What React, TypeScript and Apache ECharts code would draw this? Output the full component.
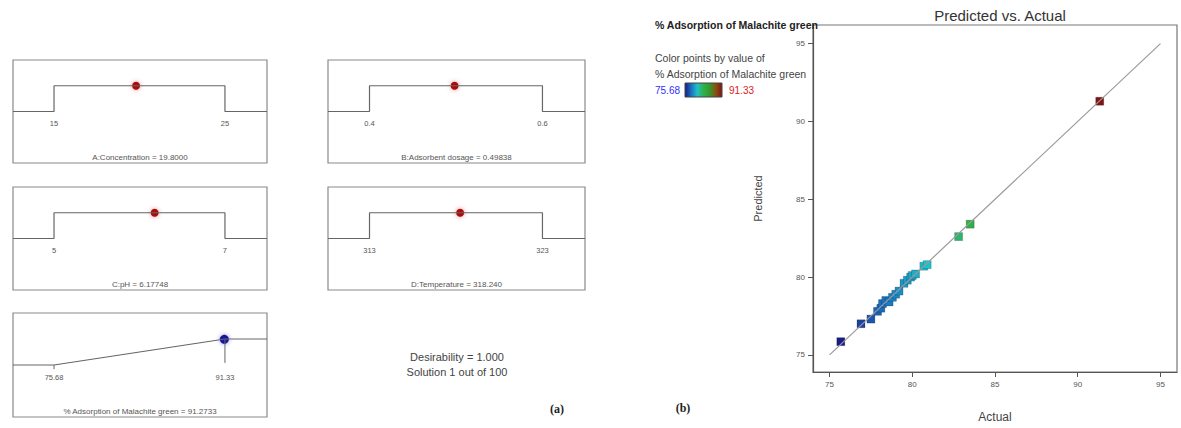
import React, { useEffect, useRef } from 'react';
import * as echarts from 'echarts';

// ---- Panel (a): optimisation ramps ----
const factorNames = ['A:Concentration', 'B:Adsorbent dosage', 'C:pH', 'D:Temperature'];
const factorLow = [15, 0.4, 5, 313];
const factorHigh = [25, 0.6, 7, 323];
const factorLowLabel = ['15', '0.4', '5', '313'];
const factorHighLabel = ['25', '0.6', '7', '323'];
const factorOpt = [19.8, 0.49838, 6.17748, 318.24];
const factorOptLabel = ['19.8000', '0.49838', '6.17748', '318.240'];

const responseName = '% Adsorption of Malachite green';
const responseLow = 75.68;
const responseHigh = 91.33;
const responsePred = 91.2733;
const responsePredLabel = '91.2733';
const desirabilityText = ['Desirability = 1.000', 'Solution 1 out of 100'];

// ---- Panel (b): predicted vs actual ----
const actualVals = [75.68, 76.9, 77.5, 77.9, 78.1, 78.2, 78.4, 78.6, 78.8, 79.0, 79.2, 79.5, 79.7, 79.9, 80.0, 80.2, 80.7, 80.9, 82.8, 83.5, 91.33];
const predictedVals = [75.85, 77.0, 77.3, 77.8, 78.0, 78.3, 78.5, 78.4, 78.7, 78.9, 79.1, 79.6, 79.8, 80.0, 80.1, 80.2, 80.7, 80.8, 82.6, 83.4, 91.3];
const axisTicks = [75, 80, 85, 90, 95];
const diagonal = [75, 95];
const scaleColors = ['#1a1a88', '#1a70c0', '#20c0c8', '#30b048', '#2f9a30', '#8a5010', '#801414'];

const FONT = 'Liberation Sans';

export default function App() {
  const ref = useRef<HTMLDivElement>(null);
  useEffect(() => {
    document.body.style.margin = '0';
    const chart = echarts.init(ref.current!, null, { renderer: 'svg' });

    const boxes = [
      { left: 13, top: 60, width: 254, height: 103 },
      { left: 328, top: 60, width: 257, height: 103 },
      { left: 13, top: 187, width: 254, height: 103 },
      { left: 328, top: 187, width: 257, height: 103 },
      { left: 13, top: 313, width: 254, height: 104 },
    ];
    const L = 0.5;
    const H = 0.75;
    const grids: any[] = [];
    const xAxes: any[] = [];
    const yAxes: any[] = [];
    const series: any[] = [];

    const lineStyle = { color: '#666', width: 1.2 };
    const tickLabel = (idx: number, pts: any[], texts: string[]) => ({
      type: 'scatter', xAxisIndex: idx, yAxisIndex: idx, symbolSize: 0, silent: true,
      itemStyle: { color: '#555', opacity: 1 },
      data: pts,
      label: {
        show: true, position: 'bottom', distance: 8, fontSize: 7.5, color: '#555', fontFamily: FONT,
        formatter: (p: any) => texts[p.dataIndex],
      },
    });

    boxes.forEach((b, i) => {
      grids.push({ ...b, show: true, borderColor: '#8a8a8a', borderWidth: 1.2, backgroundColor: '#fff' });
      let lo: number, hi: number, name: string;
      if (i < 4) {
        lo = factorLow[i]; hi = factorHigh[i];
        name = `${factorNames[i]} = ${factorOptLabel[i]}`;
      } else {
        lo = responseLow; hi = responseHigh;
        name = `${responseName} = ${responsePredLabel}`;
      }
      const span = hi - lo;
      const xmin = lo - 0.24 * span;
      const xmax = hi + 0.246 * span;
      xAxes.push({
        type: 'value', gridIndex: i, min: xmin, max: xmax, show: true,
        axisLine: { show: false }, axisTick: { show: false }, axisLabel: { show: false }, splitLine: { show: false },
        name, nameLocation: 'middle', nameGap: -6,
        nameTextStyle: { fontSize: 8, color: '#555', fontFamily: FONT, verticalAlign: 'middle' },
      });
      yAxes.push({ type: 'value', gridIndex: i, min: 0, max: 1, show: false });
      if (i < 4) {
        series.push({
          type: 'line', xAxisIndex: i, yAxisIndex: i, symbol: 'none', silent: true, lineStyle,
          data: [[xmin, L], [lo, L], [lo, H], [hi, H], [hi, L], [xmax, L]],
        });
        series.push(tickLabel(i, [[lo, L], [hi, L]], [factorLowLabel[i], factorHighLabel[i]]));
        series.push({
          type: 'scatter', xAxisIndex: i, yAxisIndex: i, symbolSize: 8, silent: true,
          itemStyle: { color: '#a81010', opacity: 1, shadowBlur: 4, shadowColor: 'rgba(220,60,60,0.6)' },
          data: [[factorOpt[i], H]],
        });
      } else {
        series.push({
          type: 'line', xAxisIndex: i, yAxisIndex: i, symbol: 'none', silent: true, lineStyle,
          data: [[xmin, L], [lo, L], [hi, H], [xmax, H]],
        });
        series.push({
          type: 'line', xAxisIndex: i, yAxisIndex: i, symbol: 'none', silent: true, lineStyle: { color: '#666', width: 1 },
          data: [[hi, H], [hi, L + 0.02]],
        });
        series.push({
          type: 'line', xAxisIndex: i, yAxisIndex: i, symbol: 'none', silent: true, lineStyle: { color: '#666', width: 1 },
          data: [[lo, L], [lo, L - 0.04]],
        });
        series.push(tickLabel(i, [[lo, L], [hi, L]], [String(responseLow), String(responseHigh)]));
        series.push({
          type: 'scatter', xAxisIndex: i, yAxisIndex: i, symbolSize: 9, silent: true,
          itemStyle: { color: '#14149a', opacity: 1, shadowBlur: 4, shadowColor: 'rgba(60,60,220,0.6)' },
          data: [[responsePred, H - 0.003]],
        });
      }
    });

    // Right chart
    const gi = 5;
    grids.push({ left: 813, top: 25, width: 364, height: 350, show: true, borderColor: '#777', borderWidth: 1.2 });
    const axisCommon = {
      axisLine: { show: true, lineStyle: { color: '#555', width: 1.2 } },
      axisTick: { show: true, customValues: axisTicks, length: 5, lineStyle: { color: '#555' } },
      axisLabel: { customValues: axisTicks, fontSize: 8, color: '#555', fontFamily: FONT, margin: 8 },
      splitLine: { show: false },
    };
    xAxes.push({
      type: 'value', gridIndex: gi, min: 74, max: 96, ...axisCommon,
      name: 'Actual', nameLocation: 'middle', nameGap: 39,
      nameTextStyle: { fontSize: 12, color: '#444', fontFamily: FONT },
    });
    yAxes.push({
      type: 'value', gridIndex: gi, min: 73.9, max: 96.2, ...axisCommon,
      name: 'Predicted', nameLocation: 'middle', nameGap: 50, nameRotate: 90,
      nameTextStyle: { fontSize: 11, color: '#444', fontFamily: FONT },
    });
    series.push({
      type: 'line', xAxisIndex: gi, yAxisIndex: gi, symbol: 'none', silent: true,
      lineStyle: { color: '#9a9a9a', width: 1.2 },
      data: diagonal.map((v) => [v, v]),
    });
    const scatterIdx = series.length;
    series.push({
      type: 'scatter', xAxisIndex: gi, yAxisIndex: gi, symbol: 'rect', symbolSize: 8,
      itemStyle: { opacity: 1, borderColor: 'rgba(0,0,0,0.3)', borderWidth: 0.6 },
      data: actualVals.map((a, k) => [a, predictedVals[k]]),
    });

    const gradient = new echarts.graphic.LinearGradient(0, 0, 1, 0,
      scaleColors.map((c, k) => ({ offset: k / (scaleColors.length - 1), color: c })));

    const option: any = {
      animation: false,
      textStyle: { fontFamily: FONT },
      grid: grids,
      xAxis: xAxes,
      yAxis: yAxes,
      series,
      visualMap: {
        type: 'continuous', show: false, min: responseLow, max: responseHigh, dimension: 0,
        seriesIndex: scatterIdx, inRange: { color: scaleColors },
      },
      graphic: [
        { type: 'text', x: 1000, y: 15, style: { text: 'Predicted vs. Actual', fontSize: 15, fill: '#333', fontFamily: FONT, align: 'center', verticalAlign: 'middle' } },
        { type: 'text', x: 655, y: 25, z: 10, style: { text: responseName, fontSize: 10.5, fontWeight: 'bold', fill: '#222', fontFamily: FONT, verticalAlign: 'middle' } },
        { type: 'text', x: 655, y: 58, style: { text: 'Color points by value of', fontSize: 10.5, fill: '#444', fontFamily: FONT, verticalAlign: 'middle' } },
        { type: 'text', x: 655, y: 74, style: { text: responseName, fontSize: 10.5, fill: '#444', fontFamily: FONT, verticalAlign: 'middle' } },
        { type: 'text', x: 655, y: 90, style: { text: String(responseLow), fontSize: 10, fill: '#3030ff', fontFamily: FONT, verticalAlign: 'middle' } },
        { type: 'rect', shape: { x: 685, y: 83, width: 37, height: 14 }, style: { fill: gradient, stroke: '#444', lineWidth: 1 } },
        { type: 'text', x: 729, y: 90, style: { text: String(responseHigh), fontSize: 10, fill: '#e02020', fontFamily: FONT, verticalAlign: 'middle' } },
        { type: 'text', x: 457, y: 357, style: { text: desirabilityText[0], fontSize: 11, fill: '#444', fontFamily: FONT, align: 'center', verticalAlign: 'middle' } },
        { type: 'text', x: 457, y: 372, style: { text: desirabilityText[1], fontSize: 11, fill: '#444', fontFamily: FONT, align: 'center', verticalAlign: 'middle' } },
        { type: 'text', x: 557, y: 409, style: { text: '(a)', fontSize: 12, fontWeight: 'bold', fill: '#222', fontFamily: 'Liberation Serif', align: 'center', verticalAlign: 'middle' } },
        { type: 'text', x: 683, y: 408, style: { text: '(b)', fontSize: 12, fontWeight: 'bold', fill: '#222', fontFamily: 'Liberation Serif', align: 'center', verticalAlign: 'middle' } },
      ],
    };
    chart.setOption(option);
    return () => chart.dispose();
  }, []);
  return <div ref={ref} style={{ width: 1181, height: 428 }} />;
}
